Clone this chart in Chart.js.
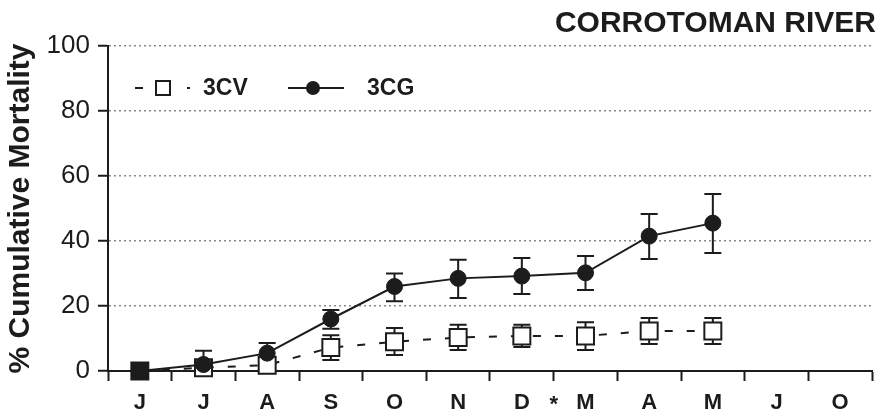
<!DOCTYPE html>
<html>
<head>
<meta charset="utf-8">
<script src="https://cdn.jsdelivr.net/npm/chart.js@4"></script>
<style>
  html, body { margin: 0; padding: 0; background: #fff; }
  #wrap { width: 886px; height: 417px; }
</style>
</head>
<body>
<div id="wrap"><canvas id="chart" width="886" height="417"></canvas></div>
<script>
// months, June through the next October (break after December)
const months = ['J', 'J', 'A', 'S', 'O', 'N', 'D', 'M', 'A', 'M', 'J', 'O']

// 3CG (filled circles)
const cgValues = [0, 2, 5.5, 16, 26, 28.5, 29.2, 30.2, 41.5, 45.5, null, null]
const cgHigh = [null, 6.2, 8.6, 18.8, 30, 34.2, 34.8, 35.4, 48.3, 54.5, null, null]
const cgLow = [null, 0, 2.5, 13, 21.5, 22.5, 23.7, 24.9, 34.5, 36.3, null, null]

// 3CV (open squares)
const cvValues = [0, 1, 1.8, 7.2, 9, 10.3, 10.8, 10.8, 12.3, 12.3, null, null]
const cvHigh = [null, 2, 3, 11, 13.2, 14.2, 14.2, 15, 16.3, 16.3, null, null]
const cvLow = [null, 0, 0.5, 3.4, 4.9, 6.5, 7.4, 6.5, 8.3, 8.3, null, null]

const ink = '#1c1c1c'
const gridGrey = '#8a8a8a'

// vertical error bars with caps, drawn under the markers
const errorBars = {
  id: 'errorBars',
  beforeDatasetsDraw (chart) {
    const ctx = chart.ctx
    const x = chart.scales.x
    const y = chart.scales.y
    const ranges = [[cgLow, cgHigh], [cvLow, cvHigh]]
    ctx.save()
    ctx.strokeStyle = ink
    ctx.lineWidth = 2
    ranges.forEach(([lo, hi]) => {
      for (let i = 0; i < lo.length; i++) {
        if (lo[i] == null || hi[i] == null) continue
        const px = x.getPixelForValue(i)
        const top = y.getPixelForValue(hi[i])
        const bot = y.getPixelForValue(lo[i])
        ctx.beginPath()
        ctx.moveTo(px, top); ctx.lineTo(px, bot)
        ctx.moveTo(px - 8.5, top); ctx.lineTo(px + 8.5, top)
        ctx.moveTo(px - 8.5, bot); ctx.lineTo(px + 8.5, bot)
        ctx.stroke()
      }
    })
    ctx.restore()
  }
}

// legend inside the plot and the break asterisk between D and M
const extras = {
  id: 'extras',
  afterDraw (chart) {
    const ctx = chart.ctx
    const area = chart.chartArea
    const cg = chart.data.datasets[0]
    const cv = chart.data.datasets[1]
    const ly = 88
    ctx.save()
    ctx.strokeStyle = ink
    ctx.fillStyle = ink
    ctx.lineWidth = 2

    // 3CV: - [] .
    let lx = area.left + 27
    ctx.beginPath()
    ctx.moveTo(lx, ly); ctx.lineTo(lx + 8, ly)
    ctx.moveTo(lx + 52, ly); ctx.lineTo(lx + 55, ly)
    ctx.stroke()
    ctx.fillStyle = '#fff'
    ctx.fillRect(lx + 21, ly - 7, 14, 14)
    ctx.strokeRect(lx + 21, ly - 7, 14, 14)

    ctx.fillStyle = ink
    ctx.font = 'bold 23px "Liberation Sans", Arial, sans-serif'
    ctx.textBaseline = 'middle'
    ctx.textAlign = 'left'
    ctx.fillText(cv.label, lx + 68, ly + 1)

    // 3CG: -o-
    lx = area.left + 180
    ctx.beginPath()
    ctx.moveTo(lx, ly); ctx.lineTo(lx + 56, ly)
    ctx.stroke()
    ctx.beginPath()
    ctx.arc(lx + 25, ly, 7, 0, Math.PI * 2)
    ctx.fill()
    ctx.fillText(cg.label, lx + 79, ly + 1)

    // asterisk on the tick between D and M
    const xs = chart.scales.x
    const ax = (xs.getPixelForValue(6) + xs.getPixelForValue(7)) / 2
    ctx.font = 'bold 22px "Liberation Sans", Arial, sans-serif'
    ctx.textAlign = 'center'
    ctx.fillText('*', ax, 405)
    ctx.restore()
  }
}

const chart = new Chart(document.getElementById('chart'), {
  type: 'line',
  data: {
    labels: months,
    datasets: [{
      label: '3CG',
      data: cgValues,
      clip: false,
      borderColor: ink,
      borderWidth: 2,
      pointStyle: 'circle',
      pointRadius: 8,
      pointBackgroundColor: ink,
      pointBorderColor: ink,
      pointBorderWidth: 1,
      tension: 0
    }, {
      label: '3CV',
      data: cvValues,
      clip: false,
      borderColor: ink,
      borderWidth: 2,
      borderDash: [8, 14],
      pointStyle: 'rect',
      pointRadius: 12,
      pointBackgroundColor: (c) => c.dataIndex === 0 ? ink : '#fff',
      pointBorderColor: ink,
      pointBorderWidth: 2,
      tension: 0
    }]
  },
  options: {
    responsive: false,
    animation: false,
    events: [],
    layout: { padding: { left: 0, right: 10, top: 0, bottom: 0 } },
    plugins: {
      legend: { display: false },
      tooltip: { enabled: false },
      title: {
        display: true,
        text: 'CORROTOMAN RIVER',
        align: 'end',
        color: ink,
        font: { family: '"Liberation Sans", Arial, sans-serif', size: 30, weight: 'bold', lineHeight: 1.2 },
        padding: { top: 6, bottom: 4 }
      }
    },
    scales: {
      x: {
        type: 'category',
        offset: true,
        grid: {
          offset: true,
          drawOnChartArea: false,
          tickLength: 10,
          tickColor: ink,
          tickWidth: 2
        },
        border: { color: ink, width: 2 },
        ticks: {
          color: ink,
          padding: 9,
          maxRotation: 0,
          autoSkip: false,
          font: { family: '"Liberation Sans", Arial, sans-serif', size: 22, weight: 'bold' }
        },
        afterFit (scale) { scale.height = 46 }
      },
      y: {
        min: 0,
        max: 100,
        grid: {
          color: (c) => (c.tick && c.tick.value % 20 === 0 && c.tick.value !== 0) ? gridGrey : 'rgba(0,0,0,0)',
          lineWidth: 1.5,
          tickLength: 10,
          tickColor: ink,
          tickWidth: 2
        },
        border: { color: ink, width: 2, dash: [2, 3] },
        ticks: {
          stepSize: 10,
          color: ink,
          padding: 8,
          font: { family: '"Liberation Sans", Arial, sans-serif', size: 26 },
          callback: (v) => v % 20 === 0 ? v : ''
        },
        title: {
          display: true,
          text: '% Cumulative Mortality',
          color: ink,
          font: { family: '"Liberation Sans", Arial, sans-serif', size: 30, weight: 'bold', lineHeight: 1.2 },
          padding: { top: 3, bottom: 0 }
        },
        afterFit (scale) { scale.width = 108 }
      }
    }
  },
  plugins: [errorBars, extras]
})
</script>
</body>
</html>
